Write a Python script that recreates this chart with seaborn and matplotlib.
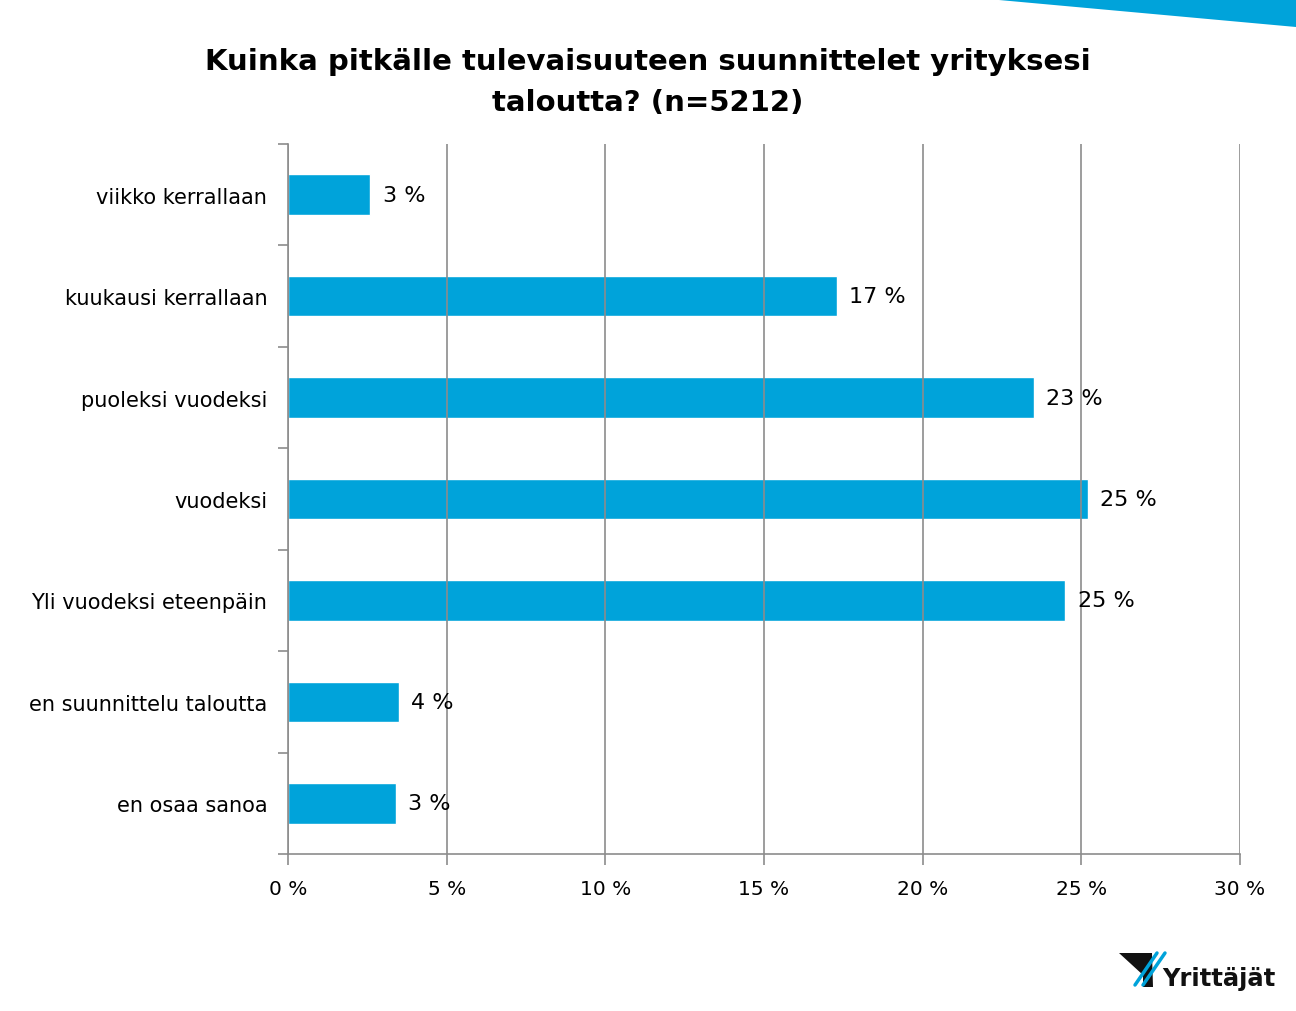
import matplotlib
matplotlib.use("Agg")
import matplotlib.pyplot as plt
from matplotlib.patches import Polygon
from matplotlib.lines import Line2D
from matplotlib.ticker import MultipleLocator, FuncFormatter
import pandas as pd
import seaborn as sns

# data luettu kuvasta
vastaukset = ["viikko kerrallaan", "kuukausi kerrallaan", "puoleksi vuodeksi",
              "vuodeksi", "Yli vuodeksi eteenpäin", "en suunnittelu taloutta",
              "en osaa sanoa"]
osuudet = [2.6, 17.3, 23.5, 25.2, 24.5, 3.5, 3.4]
merkinnat = ["3 %", "17 %", "23 %", "25 %", "25 %", "4 %", "3 %"]
otsikko = "Kuinka pitkälle tulevaisuuteen suunnittelet yrityksesi\ntaloutta? (n=5212)"

sininen = "#00A3DA"
harmaa = "#8C8C8C"

sns.set_style("white")
plt.rcParams["font.family"] = ["DejaVu Sans"]
plt.rcParams["text.color"] = "black"
plt.rcParams["xtick.color"] = "black"
plt.rcParams["ytick.color"] = "black"

df = pd.DataFrame({"vastaus": vastaukset, "osuus": osuudet})

fig = plt.figure(figsize=(12.96, 10.12), dpi=100)
ax = fig.add_axes([0.2222, 0.1551, 0.7346, 0.7016])

sns.barplot(data=df, x="osuus", y="vastaus", color=sininen, width=0.4,
            saturation=1, ax=ax)

ax.set_xlim(0, 30)
ax.set_ylim(len(vastaukset) - 0.5, -0.5)
ax.xaxis.set_major_locator(MultipleLocator(5))
ax.xaxis.set_major_formatter(FuncFormatter(lambda v, p: f"{v:.0f} %"))
ax.grid(axis="x", color=harmaa, linewidth=1.2, zorder=3)
ax.set_axisbelow(False)
for b in ax.patches:
    b.set_zorder(1)

for s in ["top", "right"]:
    ax.spines[s].set_visible(False)
for s in ["left", "bottom"]:
    ax.spines[s].set_color(harmaa)
    ax.spines[s].set_linewidth(1.2)

ax.set_xlabel("")
ax.set_ylabel("")
ax.tick_params(axis="x", bottom=True, length=8, color=harmaa, width=1.2,
               labelsize=14.5, pad=10, labelcolor="black")
ax.tick_params(axis="y", which="major", left=False, length=0, labelsize=15,
               pad=15, labelcolor="black")
ax.set_yticks([i - 0.5 for i in range(len(vastaukset) + 1)], minor=True)
ax.tick_params(axis="y", which="minor", left=True, length=7, color=harmaa, width=1.2)

for i, v in enumerate(osuudet):
    ax.text(v + 0.38, i, merkinnat[i], va="center", ha="left",
            fontsize=16, zorder=4, color="black")

fig.suptitle(otsikko, fontsize=21, fontweight="bold", y=0.953, linespacing=1.62,
             color="black")

# sininen raita oikeassa yläkulmassa
fig.patches.append(Polygon([[988 / 1296, 1], [1, 1], [1, 1 - 28 / 1012]],
                           closed=True, transform=fig.transFigure,
                           facecolor=sininen, edgecolor="none"))


def fx(px):
    return px / 1296


def fy(py):
    return 1 - py / 1012


# logo
fig.patches.append(Polygon([[fx(1119), fy(954)], [fx(1152), fy(954)],
                            [fx(1153), fy(988)], [fx(1143), fy(988)],
                            [fx(1143), fy(976)]],
                           closed=True, transform=fig.transFigure,
                           facecolor="#111111", edgecolor="none"))
for dx in (0, 8):
    fig.lines.append(Line2D([fx(1157 + dx), fx(1135 + dx)], [fy(954), fy(986)],
                            transform=fig.transFigure, color=sininen, linewidth=2.5))
fig.text(fx(1162), fy(979), "Yrittäjät", fontsize=17.5, fontweight="bold",
         va="center", ha="left", color="#111111")

fig.savefig("out.png", dpi=100)
